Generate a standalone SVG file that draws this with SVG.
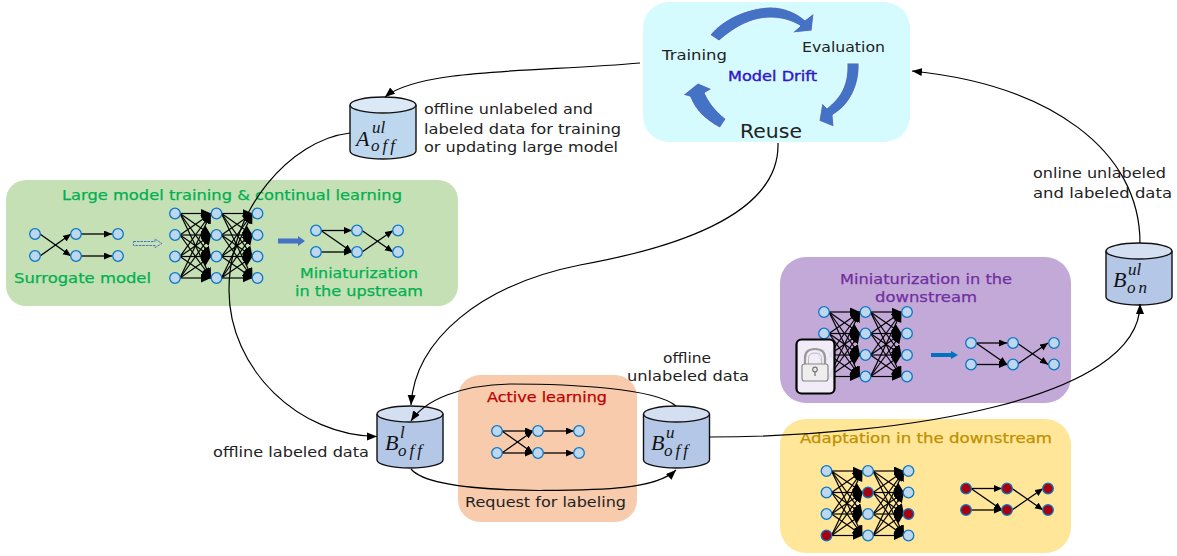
<svg xmlns="http://www.w3.org/2000/svg" xmlns:xlink="http://www.w3.org/1999/xlink" width="1177" height="556" viewBox="0 0 1177 556">
<style>
text{font-family:"DejaVu Sans","Liberation Sans",sans-serif;font-size:14.5px;fill:#222}
.g{fill:#00b050;stroke:#00b050;stroke-width:.25}
.p{fill:#7030a0;stroke:#7030a0;stroke-width:.25}
.y{fill:#bf9000;stroke:#bf9000;stroke-width:.25}
.d{fill:#c00000;stroke:#c00000;stroke-width:.25}
.m{font-family:"Liberation Serif",serif;font-style:italic;fill:#111}
.big{font-size:22px}.sup{font-size:17px}.sub{font-size:17px;letter-spacing:3px}
.n{fill:#bdd7ee;stroke:#0b76c4;stroke-width:1.3}
.r{fill:#a80010;stroke:#0b76c4;stroke-width:1.3}
.e{stroke:#000;stroke-width:1.3;fill:none;marker-end:url(#h)}
.f{stroke:#000;stroke-width:1.2;fill:none;marker-end:url(#hb)}
.w{stroke:#000;stroke-width:1.2;fill:none;marker-end:url(#w)}
.cyc{fill:#4472c4;stroke:#fff;stroke-width:.8}
</style>
<defs>
<marker id="h" markerUnits="userSpaceOnUse" markerWidth="9" markerHeight="8" refX="8" refY="3.500" orient="auto"><path d="M0 0L8 3.500L0 7z" fill="#000"/></marker>
<marker id="hb" markerUnits="userSpaceOnUse" markerWidth="11" markerHeight="10" refX="10" refY="4.500" orient="auto"><path d="M0 0L10 4.500L0 9z" fill="#000"/></marker>
<marker id="w" markerUnits="userSpaceOnUse" markerWidth="11" markerHeight="10" refX="10" refY="4" orient="auto"><path d="M0 0L10 4L0 8z" fill="#000"/></marker>
<g id="fan">
<path class="f" d="M5 0L36 0"/><path class="f" d="M5 0L36 21.500"/><path class="f" d="M5 0L36 43"/><path class="f" d="M5 0L36 64.500"/>
<path class="f" d="M5 21.500L36 0"/><path class="f" d="M5 21.500L36 21.500"/><path class="f" d="M5 21.500L36 43"/><path class="f" d="M5 21.500L36 64.500"/>
<path class="f" d="M5 43L36 0"/><path class="f" d="M5 43L36 21.500"/><path class="f" d="M5 43L36 43"/><path class="f" d="M5 43L36 64.500"/>
<path class="f" d="M5 64.500L36 0"/><path class="f" d="M5 64.500L36 21.500"/><path class="f" d="M5 64.500L36 43"/><path class="f" d="M5 64.500L36 64.500"/>
</g>
<g id="big">
<use xlink:href="#fan" href="#fan"/><use xlink:href="#fan" href="#fan" x="41.500"/>
</g>
<g id="mini">
<path class="e" d="M5 0L36 0"/><path class="e" d="M5 0L36 21.500"/><path class="e" d="M5 21.500L36 21.500"/><path class="e" d="M46 0L77 21.500"/><path class="e" d="M46 21.500L77 0"/>
</g>
<g id="cyl">
<path d="M0 8V54A33 8 0 0 0 66 54V8" fill="#b4c7e7" stroke="#111" stroke-width="1.400"/>
<ellipse cx="33" cy="8" rx="33" ry="8" fill="#d4e0f2" stroke="#111" stroke-width="1.400"/>
</g>
<g id="cyl2">
<path d="M0 8V54A33 8 0 0 0 66 54V8" fill="#bdd7ee" stroke="#111" stroke-width="1.400"/>
<ellipse cx="33" cy="8" rx="33" ry="8" fill="#dbe9f6" stroke="#111" stroke-width="1.400"/>
</g>
</defs>

<g id="panel-model-drift">
<rect x="643" y="2" width="267" height="140" rx="26" fill="#d5fbff"/>
<path class="cyc" d="M710 35C722 20 745 8 770 7C785 7 797 13 805 20L814 13L812 31L792 33L800 26C790 20 780 18 770 18C752 18 735 27 719 41Z"/>
<path class="cyc" d="M847 63H859C860 85 850 105 833 115L834 127L819 121L822 103L827 108C840 98 848 85 847 63Z"/>
<path class="cyc" d="M726 119L720 128C705 120 695 110 690 97L683 95L698 83L712 89L705 93C710 104 717 112 726 119Z"/>
<text x="662" y="60" textLength="65" lengthAdjust="spacingAndGlyphs">Training</text>
<text x="802" y="52" textLength="83" lengthAdjust="spacingAndGlyphs">Evaluation</text>
<text x="728" y="81" textLength="89" lengthAdjust="spacingAndGlyphs" style="fill:#3316c8;stroke:#3316c8;stroke-width:.4">Model Drift</text>
<text x="740" y="138" textLength="62" lengthAdjust="spacingAndGlyphs" style="font-size:19px">Reuse</text>
</g>

<g id="panel-large-model">
<rect x="6" y="180" width="452" height="126" rx="20" fill="#c5e0b4"/>
<text class="g" x="62" y="200" textLength="340" lengthAdjust="spacingAndGlyphs">Large model training &amp; continual learning</text>
<text class="g" x="14" y="283" textLength="137" lengthAdjust="spacingAndGlyphs">Surrogate model</text>
<text class="g" x="300" y="278" textLength="118" lengthAdjust="spacingAndGlyphs">Miniaturization</text>
<text class="g" x="295" y="296" textLength="128" lengthAdjust="spacingAndGlyphs">in the upstream</text>
<g id="net-surrogate">
<path class="e" d="M40 234L71 256"/><path class="e" d="M40 256L71 234"/><path class="e" d="M81 234L112 234"/><path class="e" d="M81 256L112 256"/>
<g class="n"><circle cx="35" cy="234" r="5.300"/><circle cx="35" cy="256" r="5.300"/><circle cx="76" cy="234" r="5.300"/><circle cx="76" cy="256" r="5.300"/><circle cx="118" cy="234" r="5.300"/><circle cx="118" cy="256" r="5.300"/></g>
</g>
<path d="M133.500 241.500H155V239L162 243.500L155 247.500V245.500H133.500Z" fill="none" stroke="#4472c4" stroke-width="1" stroke-dasharray="2.500 1"/>
<g id="net-large">
<use xlink:href="#big" href="#big" x="175" y="213.500"/>
<g class="n"><circle cx="175" cy="213.500" r="5.300"/><circle cx="175" cy="235" r="5.300"/><circle cx="175" cy="256.500" r="5.300"/><circle cx="175" cy="278" r="5.300"/><circle cx="216.500" cy="213.500" r="5.300"/><circle cx="216.500" cy="235" r="5.300"/><circle cx="216.500" cy="256.500" r="5.300"/><circle cx="216.500" cy="278" r="5.300"/><circle cx="257.500" cy="213.500" r="5.300"/><circle cx="257.500" cy="235" r="5.300"/><circle cx="257.500" cy="256.500" r="5.300"/><circle cx="257.500" cy="278" r="5.300"/></g>
</g>
<path d="M278 238.500H298V236L305 241L298 246V243.500H278Z" fill="#4472c4"/>
<g id="net-upstream">
<use xlink:href="#mini" href="#mini" x="316" y="230.500"/>
<g class="n"><circle cx="316" cy="230.500" r="5.300"/><circle cx="316" cy="252" r="5.300"/><circle cx="357" cy="230.500" r="5.300"/><circle cx="357" cy="252" r="5.300"/><circle cx="398" cy="230.500" r="5.300"/><circle cx="398" cy="252" r="5.300"/></g>
</g>
</g>

<g id="panel-miniaturization-downstream">
<rect x="780" y="257" width="291" height="146" rx="26" fill="#c3a9d8"/>
<text class="p" x="840" y="284" textLength="172" lengthAdjust="spacingAndGlyphs">Miniaturization in the</text>
<text class="p" x="875" y="302" textLength="102" lengthAdjust="spacingAndGlyphs">downstream</text>
<g id="net-locked">
<use xlink:href="#big" href="#big" x="824" y="312"/>
<g class="n"><circle cx="824" cy="312" r="5.300"/><circle cx="824" cy="333.500" r="5.300"/><circle cx="824" cy="355" r="5.300"/><circle cx="824" cy="376.500" r="5.300"/><circle cx="865.500" cy="312" r="5.300"/><circle cx="865.500" cy="333.500" r="5.300"/><circle cx="865.500" cy="355" r="5.300"/><circle cx="865.500" cy="376.500" r="5.300"/><circle cx="907" cy="312" r="5.300"/><circle cx="907" cy="333.500" r="5.300"/><circle cx="907" cy="355" r="5.300"/><circle cx="907" cy="376.500" r="5.300"/></g>
</g>
<g id="lock">
<rect x="796.500" y="339.500" width="38" height="54" rx="5" fill="#f5f0fa" fill-opacity=".93" stroke="#000" stroke-width="2.200"/>
<path d="M805 364V358Q805 349 815 349Q825 349 825 358V364" fill="none" stroke="#999" stroke-width="2.200"/>
<path d="M808.500 364V358.500Q808.500 353 815 353Q821.500 353 821.500 358.500V364" fill="none" stroke="#bbb" stroke-width="1"/>
<rect x="802" y="364" width="26" height="17" rx="2.500" fill="#eee" stroke="#888" stroke-width="1.200"/>
<circle cx="815" cy="369.500" r="2.300" fill="none" stroke="#777" stroke-width="1.200"/><path d="M815 372V376" stroke="#777" stroke-width="1.300"/>
</g>
<path d="M931 353H951V351L958 355L951 359V357H931Z" fill="#0070c0"/>
<g id="net-downstream">
<use xlink:href="#mini" href="#mini" x="971" y="343"/>
<g class="n"><circle cx="971" cy="343" r="5.300"/><circle cx="971" cy="364.500" r="5.300"/><circle cx="1013" cy="343" r="5.300"/><circle cx="1013" cy="364.500" r="5.300"/><circle cx="1054" cy="343" r="5.300"/><circle cx="1054" cy="364.500" r="5.300"/></g>
</g>
</g>

<g id="panel-adaptation">
<rect x="780" y="419" width="291" height="134" rx="26" fill="#ffe699"/>
<text class="y" x="800" y="443" textLength="252" lengthAdjust="spacingAndGlyphs">Adaptation in the downstream</text>
<g id="net-adapt-large">
<use xlink:href="#big" href="#big" x="826.500" y="471"/>
<g class="n"><circle cx="826.500" cy="471" r="5.300"/><circle cx="826.500" cy="492.500" r="5.300"/><circle cx="826.500" cy="514" r="5.300"/><circle cx="868" cy="471" r="5.300"/><circle cx="868" cy="514" r="5.300"/><circle cx="868" cy="535.500" r="5.300"/><circle cx="908.500" cy="471" r="5.300"/><circle cx="908.500" cy="492.500" r="5.300"/><circle cx="908.500" cy="535.500" r="5.300"/></g>
<g class="r"><circle cx="826.500" cy="535.500" r="5.300"/><circle cx="868" cy="492.500" r="5.300"/><circle cx="908.500" cy="514" r="5.300"/></g>
</g>
<g id="net-adapt-mini">
<use xlink:href="#mini" href="#mini" x="966" y="488.500"/>
<g class="r"><circle cx="966" cy="488.500" r="5.300"/><circle cx="966" cy="510" r="5.300"/><circle cx="1007" cy="488.500" r="5.300"/><circle cx="1007" cy="510" r="5.300"/><circle cx="1048" cy="488.500" r="5.300"/><circle cx="1048" cy="510" r="5.300"/></g>
</g>
</g>

<g id="panel-active-learning">
<rect x="458" y="375" width="179" height="147" rx="22" fill="#f8cbad"/>
<text class="d" x="487" y="402" textLength="120" lengthAdjust="spacingAndGlyphs">Active learning</text>
<text x="465" y="507" textLength="161" lengthAdjust="spacingAndGlyphs">Request for labeling</text>
<g id="net-active">
<path class="e" d="M502 431L533 431"/><path class="e" d="M502 431L533 453"/><path class="e" d="M502 453L533 431"/><path class="e" d="M502 453L533 453"/><path class="e" d="M543 431L574 431"/><path class="e" d="M543 453L574 453"/>
<g class="n"><circle cx="497" cy="431" r="5.300"/><circle cx="497" cy="453" r="5.300"/><circle cx="538" cy="431" r="5.300"/><circle cx="538" cy="453" r="5.300"/><circle cx="579" cy="431" r="5.300"/><circle cx="579" cy="453" r="5.300"/></g>
</g>
</g>

<g id="db-A-off-ul">
<use xlink:href="#cyl2" href="#cyl2" x="350" y="97"/>
<text class="m big" x="356" y="146">A</text><text class="m sup" x="372" y="133">ul</text><text class="m sub" x="371" y="151">off</text>
</g>
<g id="db-B-off-l">
<use xlink:href="#cyl" href="#cyl" x="377" y="406"/>
<text class="m big" x="385" y="450">B</text><text class="m sup" x="400" y="438">l</text><text class="m sub" x="398" y="456">off</text>
</g>
<g id="db-B-off-u">
<use xlink:href="#cyl" href="#cyl" x="643.500" y="406"/>
<text class="m big" x="651" y="450">B</text><text class="m sup" x="666" y="438">u</text><text class="m sub" x="664" y="456">off</text>
</g>
<g id="db-B-on-ul">
<use xlink:href="#cyl" href="#cyl" x="1106" y="243"/>
<text class="m big" x="1113" y="287">B</text><text class="m sup" x="1128" y="275">ul</text><text class="m sub" x="1127" y="293">on</text>
</g>

<g id="connectors">
<path class="w" d="M640 63C540 72 420 68 385 97"/>
<path class="w" d="M350 133C290 140 229 210 229 290C229 370 300 436 377 436.500"/>
<path class="w" d="M778 143C780 210 690 245 580 265C480 285 415 340 411 405"/>
<path class="w" d="M676 406C655 388 570 384 510 384C460 385 425 400 411 421"/>
<path class="w" d="M411 469C425 486 490 490 540 490.500C600 490 655 490 676 470"/>
<path class="w" d="M709 437C900 437 1140 400 1140 304"/>
<path class="w" d="M1140 243C1140 150 1050 85 912 71"/>
</g>

<g id="labels">
<text x="424" y="114" textLength="169" lengthAdjust="spacingAndGlyphs">offline unlabeled and</text>
<text x="424" y="134" textLength="197" lengthAdjust="spacingAndGlyphs">labeled data for training</text>
<text x="424" y="152" textLength="194" lengthAdjust="spacingAndGlyphs">or updating large model</text>
<text x="663" y="363" textLength="48" lengthAdjust="spacingAndGlyphs">offline</text>
<text x="627" y="381" textLength="122" lengthAdjust="spacingAndGlyphs">unlabeled data</text>
<text x="213" y="457" textLength="156" lengthAdjust="spacingAndGlyphs">offline labeled data</text>
<text x="1033" y="178" textLength="133" lengthAdjust="spacingAndGlyphs">online unlabeled</text>
<text x="1033" y="198" textLength="139" lengthAdjust="spacingAndGlyphs">and labeled data</text>
</g>
</svg>
